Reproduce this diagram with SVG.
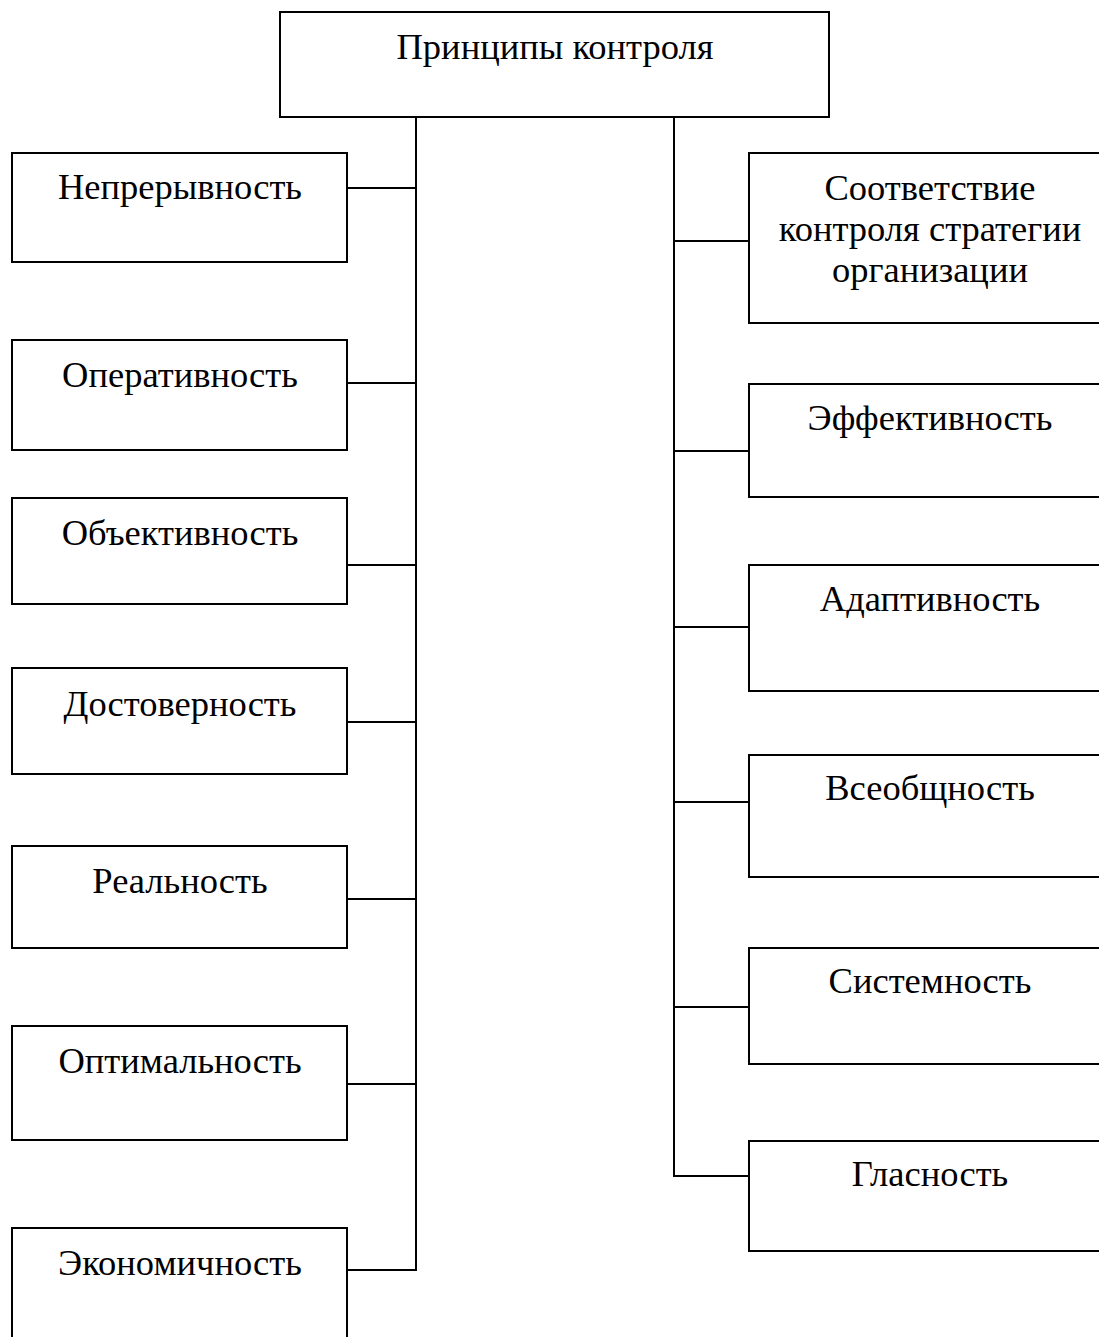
<svg xmlns="http://www.w3.org/2000/svg" width="1099" height="1337" viewBox="0 0 1099 1337">
<style>
.box{fill:#fff;stroke:#000;stroke-width:2}
.ln{fill:none;stroke:#000;stroke-width:2}
text{font-family:"Liberation Serif","Times New Roman",serif;font-size:36.5px;fill:#000;text-anchor:middle}
</style>
<rect width="1099" height="1337" fill="#fff"/>
<g id="connectors">
<path class="ln" d="M416,117 V1270 H347"/>
<path class="ln" d="M347,188 H416 M347,383 H416 M347,565 H416 M347,722 H416 M347,899 H416 M347,1084 H416"/>
<path class="ln" d="M674,117 V1176 H749"/>
<path class="ln" d="M674,241 H749 M674,451 H749 M674,627 H749 M674,802 H749 M674,1007 H749"/>
</g>
<g id="root"><rect class="box" x="280" y="12" width="549" height="105"/><text x="555" y="59">Принципы контроля</text></g>
<g id="l1"><rect class="box" x="12" y="153" width="335" height="109"/><text x="180" y="199">Непрерывность</text></g>
<g id="l2"><rect class="box" x="12" y="340" width="335" height="110"/><text x="180" y="387">Оперативность</text></g>
<g id="l3"><rect class="box" x="12" y="498" width="335" height="106"/><text x="180" y="545">Объективность</text></g>
<g id="l4"><rect class="box" x="12" y="668" width="335" height="106"/><text x="180" y="716">Достоверность</text></g>
<g id="l5"><rect class="box" x="12" y="846" width="335" height="102"/><text x="180" y="893">Реальность</text></g>
<g id="l6"><rect class="box" x="12" y="1026" width="335" height="114"/><text x="180" y="1073">Оптимальность</text></g>
<g id="l7"><rect class="box" x="12" y="1228" width="335" height="130"/><text x="180" y="1275">Экономичность</text></g>
<g id="r1"><rect class="box" x="749" y="153" width="370" height="170"/><text x="930" y="200">Соответствие</text><text x="930" y="241">контроля стратегии</text><text x="930" y="282">организации</text></g>
<g id="r2"><rect class="box" x="749" y="384" width="370" height="113"/><text x="930" y="430">Эффективность</text></g>
<g id="r3"><rect class="box" x="749" y="565" width="370" height="126"/><text x="930" y="611">Адаптивность</text></g>
<g id="r4"><rect class="box" x="749" y="755" width="370" height="122"/><text x="930" y="800">Всеобщность</text></g>
<g id="r5"><rect class="box" x="749" y="948" width="370" height="116"/><text x="930" y="993">Системность</text></g>
<g id="r6"><rect class="box" x="749" y="1141" width="370" height="110"/><text x="930" y="1186">Гласность</text></g>
</svg>
